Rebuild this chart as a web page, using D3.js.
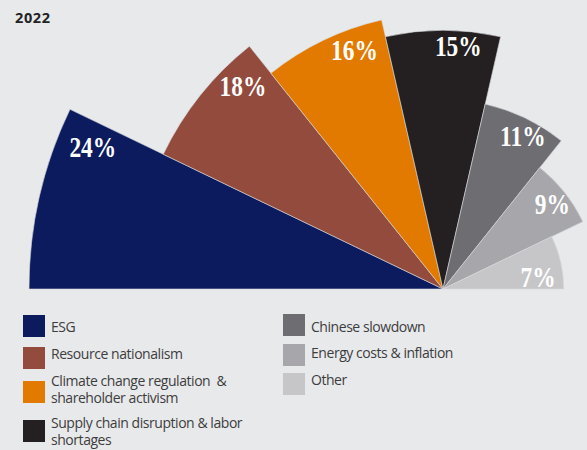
<!DOCTYPE html>
<html>
<head>
<meta charset="utf-8">
<script src="https://cdn.jsdelivr.net/npm/d3@7"></script>
<style>
  html, body { margin: 0; padding: 0; background: #e8e9eb; }
  svg { display: block; }
</style>
</head>
<body>
<div id="chart"></div>
<script>
// chart values
const title = "2022";
const categories = [
    ["ESG"],
    ["Resource nationalism"],
    ["Climate change regulation  &", "shareholder activism"],
    ["Supply chain disruption & labor", "shortages"],
    ["Chinese slowdown"],
    ["Energy costs & inflation"],
    ["Other"]
];
const shares = [24, 18, 16, 15, 11, 9, 7];
const colors = ["#0c1a5e", "#934b3e", "#e27a00", "#241f20", "#6e6e72", "#a7a7ab", "#c6c6c9"];

// where each value label sits inside its slice (fraction of the slice angle, px in from the rim)
const labelAngleFrac = [0.86, 0.77, 0.71, 0.64, 0.57, 0.53, 0.72];
const labelInset = [36, 25, 21, 15, 17, 17, 25];

// legend layout: column x, square top, text baselines
const legendX = [23, 23, 23, 23, 283, 283, 283];
const legendBoxY = [315, 347, 381, 420, 314, 344, 373];
const legendTextY = [332, 359, 386, 428, 332, 358, 385];

const width = 587;
const height = 450;
const cx = 443;
const cy = 289;

const svg = d3.select("#chart")
    .append("svg")
    .attr("width", width)
    .attr("height", height)
    .style("background", "#e8e9eb");

svg.append("text")
    .attr("x", 15)
    .attr("y", 23)
    .attr("font-family", "Open Sans, sans-serif")
    .attr("font-weight", "bold")
    .attr("font-size", 14.5)
    .attr("letter-spacing", 0.6)
    .attr("fill", "#222")
    .text(title);

const rScale = d3.scaleLinear().domain([0, 24]).range([0, 414]);

const rows = shares.map((v, i) => ({ value: v, name: categories[i], color: colors[i], i }));

const pie = d3.pie()
    .value(() => 1)
    .sort(null)
    .startAngle(-Math.PI / 2)
    .endAngle(Math.PI / 2);

const arc = d3.arc()
    .innerRadius(0)
    .outerRadius((d) => rScale(d.data.value));

const arcs = pie(rows);

const g = svg.append("g").attr("transform", `translate(${cx},${cy})`);

g.selectAll("path")
    .data(arcs)
    .join("path")
    .attr("d", arc)
    .attr("fill", (d) => d.data.color)
    .attr("stroke", "#d9dadd")
    .attr("stroke-width", 0.6);

// labels get cut by the baseline, like the reference
svg.append("clipPath")
    .attr("id", "clip-top")
    .append("rect")
    .attr("x", 0)
    .attr("y", 0)
    .attr("width", width)
    .attr("height", cy + 1);

const labels = svg.append("g")
    .attr("clip-path", "url(#clip-top)")
    .append("g")
    .attr("transform", `translate(${cx},${cy})`);

labels.selectAll("g")
    .data(arcs)
    .join("g")
    .attr("transform", (d) => {
        const i = d.data.i;
        const a = d.startAngle + labelAngleFrac[i] * (d.endAngle - d.startAngle);
        const r = rScale(d.data.value) - labelInset[i];
        return `translate(${r * Math.sin(a)},${-r * Math.cos(a)}) scale(0.78,1)`;
    })
    .append("text")
    .attr("text-anchor", "middle")
    .attr("dy", "0.34em")
    .attr("font-family", "Liberation Serif, serif")
    .attr("font-weight", "bold")
    .attr("font-size", 30)
    .attr("fill", "#ffffff")
    .text((d) => d.data.value + "%");

// legend
const legend = svg.append("g").attr("class", "legend");

const items = legend.selectAll("g")
    .data(rows)
    .join("g");

items.append("rect")
    .attr("x", (d) => legendX[d.i])
    .attr("y", (d) => legendBoxY[d.i])
    .attr("width", 22)
    .attr("height", 22)
    .attr("fill", (d) => d.color);

items.append("text")
    .attr("font-family", "Open Sans, sans-serif")
    .attr("font-size", 14)
    .attr("letter-spacing", -0.45)
    .attr("fill", "#3d3d3d")
    .each(function (d) {
        const t = d3.select(this);
        d.name.forEach((line, k) => {
            t.append("tspan")
                .attr("x", legendX[d.i] + 28)
                .attr("y", legendTextY[d.i] + k * 16.5)
                .attr("xml:space", "preserve")
                .text(line);
        });
    });
</script>
</body>
</html>
